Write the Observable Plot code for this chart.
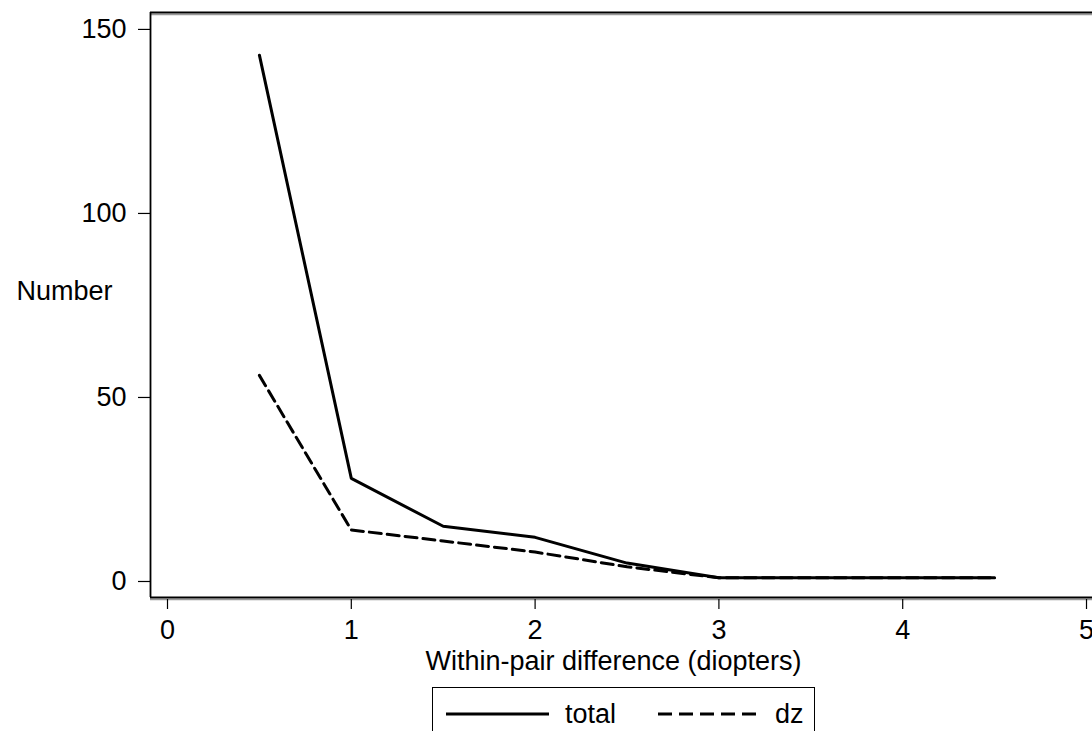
<!DOCTYPE html>
<html>
<head>
<meta charset="utf-8">
<script src="https://cdn.jsdelivr.net/npm/d3@7"></script>
<script src="https://cdn.jsdelivr.net/npm/@observablehq/plot@0.6"></script>
<style>
  html, body { margin: 0; padding: 0; background: #fff; overflow: hidden; }
  body { width: 1092px; height: 731px; position: relative; font-family: "Liberation Sans", Arial, sans-serif; }
  #chart { position: absolute; left: 0; top: 0; }
  #legend { position: absolute; left: 432px; top: 687px; width: 383px; height: 60px;
            border: 1.5px solid #000; border-bottom: none; box-sizing: border-box; }
  #legend svg { position: absolute; left: 0; top: 0; }
  #legend .lab { position: absolute; font-size: 27px; line-height: 27px; top: 13px; color: #000; }
</style>
</head>
<body>
<div id="chart"></div>
<div id="legend"></div>
<script>
// Data
const diff = [0.5, 1, 1.5, 2, 2.5, 3, 3.5, 4, 4.5];
const total = [143, 28, 15, 12, 5, 1, 1, 1, 1];
const dz = [56, 14, 11, 8, 4, 1, 1, 1, 1];
const seriesNames = ["total", "dz"];
const xTicks = [0, 1, 2, 3, 4, 5];
const yTicks = [0, 50, 100, 150];
const xLabel = "Within-pair difference (diopters)";
const yLabel = "Number";

const rows = [];
diff.forEach((d, i) => {
  rows.push({x: d, y: total[i], s: seriesNames[0]});
  rows.push({x: d, y: dz[i], s: seriesNames[1]});
});

const xDomain = [-0.0925, 5.0326];
const yDomain = [-4.35, 154.6];
const font = "Liberation Sans, Arial, sans-serif";

const chart = Plot.plot({
  width: 1092,
  height: 680,
  marginTop: 12,
  marginBottom: 83,
  marginLeft: 150,
  marginRight: 0,
  style: {fontFamily: font, fontSize: "27px", color: "#000", background: "#fff"},
  x: {domain: xDomain},
  y: {domain: yDomain},
  marks: [
    // axis frame lines (with slight grey shadow)
    Plot.ruleY([yDomain[1]], {stroke: "#999", strokeWidth: 1.5, dy: 2}),
    Plot.ruleY([yDomain[0]], {stroke: "#999", strokeWidth: 1.5, dy: 2}),
    Plot.ruleY([yDomain[1]], {stroke: "#000", strokeWidth: 1.8}),
    Plot.ruleY([yDomain[0]], {stroke: "#000", strokeWidth: 1.8}),
    Plot.ruleX([xDomain[0]], {stroke: "#000", strokeWidth: 1.8}),
    Plot.axisX({ticks: xTicks, tickSize: 10, tickPadding: 10, tickFormat: d => String(d), label: null, stroke: "#000", strokeWidth: 1.2, dy: 2, fontSize: 27}),
    Plot.axisY({ticks: yTicks, tickSize: 12, tickPadding: 12, tickFormat: d => String(d), label: null, stroke: "#000", strokeWidth: 1.2, fontSize: 27}),
    Plot.text([xLabel], {frameAnchor: "bottom", dx: -8, dy: 72, fontSize: 27, fill: "#000"}),
    Plot.text([yLabel], {frameAnchor: "left", textAnchor: "end", dx: -38, dy: -14, fontSize: 27, fill: "#000"}),
    Plot.line(rows.filter(r => r.s === "total"), {x: "x", y: "y", stroke: "#000", strokeWidth: 3, strokeLinejoin: "miter"}),
    Plot.line(rows.filter(r => r.s === "dz"), {x: "x", y: "y", stroke: "#000", strokeWidth: 3, strokeDasharray: "12,6", strokeLinejoin: "miter"})
  ]
});
document.getElementById("chart").appendChild(chart);

// Legend
const leg = document.getElementById("legend");
leg.innerHTML = `
<svg width="383" height="60">
  <line x1="13" x2="116" y1="26" y2="26" stroke="#000" stroke-width="3"/>
  <line x1="225" x2="330" y1="26" y2="26" stroke="#000" stroke-width="3" stroke-dasharray="14,7"/>
</svg>
<span class="lab" style="left:132px">${seriesNames[0]}</span>
<span class="lab" style="left:342px">${seriesNames[1]}</span>`;
</script>
</body>
</html>
